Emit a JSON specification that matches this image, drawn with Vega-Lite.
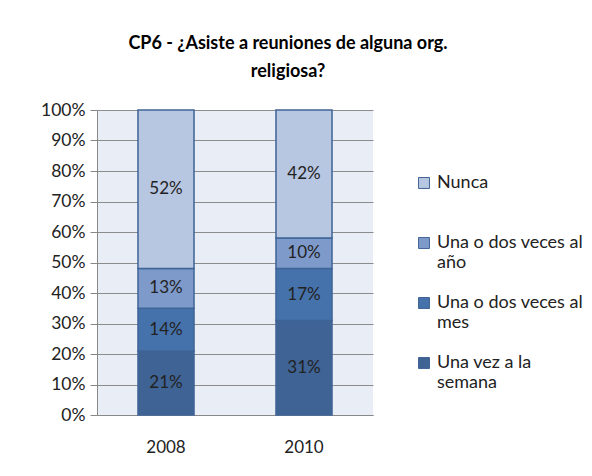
{
  "$schema": "https://vega.github.io/schema/vega-lite/v6.json",
  "width": 276,
  "height": 305,
  "autosize": {"type": "none"},
  "padding": {"left": 97, "top": 110, "right": 219, "bottom": 61},
  "background": "white",
  "title": {
    "text": ["CP6 - ¿Asiste a reuniones de alguna org.", "religiosa?"],
    "font": "Lato",
    "fontSize": 18,
    "fontWeight": "bold",
    "color": "#000000",
    "dx": 53,
    "offset": 20,
    "lineHeight": 28
  },
  "data": {
    "values": [
      {"year": "2008", "cat": "Una vez a la semana", "order": 1, "value": 0.21},
      {"year": "2008", "cat": "Una o dos veces al mes", "order": 2, "value": 0.14},
      {"year": "2008", "cat": "Una o dos veces al año", "order": 3, "value": 0.13},
      {"year": "2008", "cat": "Nunca", "order": 4, "value": 0.52},
      {"year": "2010", "cat": "Una vez a la semana", "order": 1, "value": 0.31},
      {"year": "2010", "cat": "Una o dos veces al mes", "order": 2, "value": 0.17},
      {"year": "2010", "cat": "Una o dos veces al año", "order": 3, "value": 0.10},
      {"year": "2010", "cat": "Nunca", "order": 4, "value": 0.42}
    ]
  },
  "transform": [
    {"stack": "value", "groupby": ["year"], "sort": [{"field": "order"}], "as": ["v0", "v1"]},
    {"calculate": "(datum.v0 + datum.v1) / 2", "as": "mid"}
  ],
  "encoding": {
    "x": {
      "field": "year",
      "type": "nominal",
      "scale": {"paddingInner": 0.594, "paddingOuter": 0.297},
      "axis": {
        "title": null,
        "labelAngle": 0,
        "labelFont": "Lato",
        "labelFontSize": 17,
        "labelColor": "#222222",
        "labelPadding": 24,
        "ticks": false,
        "domainColor": "#888888"
      }
    },
    "y": {
      "field": "v0",
      "type": "quantitative",
      "scale": {"domain": [0, 1], "nice": false},
      "axis": {
        "title": null,
        "format": ".0%",
        "tickCount": 10,
        "labelOverlap": false,
        "labelFont": "Lato",
        "labelFontSize": 17.5,
        "labelColor": "#222222",
        "labelPadding": 5,
        "tickSize": 7,
        "tickColor": "#888888",
        "domainColor": "#888888",
        "gridColor": "#8C8C8C",
        "gridWidth": 1
      }
    }
  },
  "layer": [
    {
      "mark": {"type": "bar", "stroke": "#3F6496", "strokeWidth": 1.5},
      "encoding": {
        "y2": {"field": "v1"},
        "color": {
          "field": "cat",
          "type": "nominal",
          "scale": {
            "domain": ["Nunca", "Una o dos veces al año", "Una o dos veces al mes", "Una vez a la semana"],
            "range": ["#B7C6E1", "#7E9ACB", "#4672AB", "#3E6394"]
          },
          "legend": {
            "title": null,
            "orient": "none",
            "legendX": 318,
            "legendY": 64,
            "symbolType": "square",
            "symbolSize": 120,
            "symbolStrokeColor": "#3F6496",
            "symbolStrokeWidth": 1,
            "labelFont": "Lato",
            "labelFontSize": 18,
            "labelColor": "#222222",
            "labelLimit": 300,
            "labelOffset": 4,
            "rowPadding": 22,
            "labelExpr": "datum.label == 'Nunca' ? ['Nunca', ' '] : datum.label == 'Una o dos veces al año' ? ['Una o dos veces al', 'año'] : datum.label == 'Una o dos veces al mes' ? ['Una o dos veces al', 'mes'] : ['Una vez a la', 'semana']"
          }
        }
      }
    },
    {
      "mark": {"type": "text", "font": "Lato", "fontSize": 17, "color": "#222222"},
      "encoding": {
        "y": {"field": "mid", "type": "quantitative"},
        "text": {"field": "value", "type": "quantitative", "format": ".0%"}
      }
    }
  ],
  "config": {
    "view": {"fill": "#E9EDF5", "stroke": null}
  }
}
